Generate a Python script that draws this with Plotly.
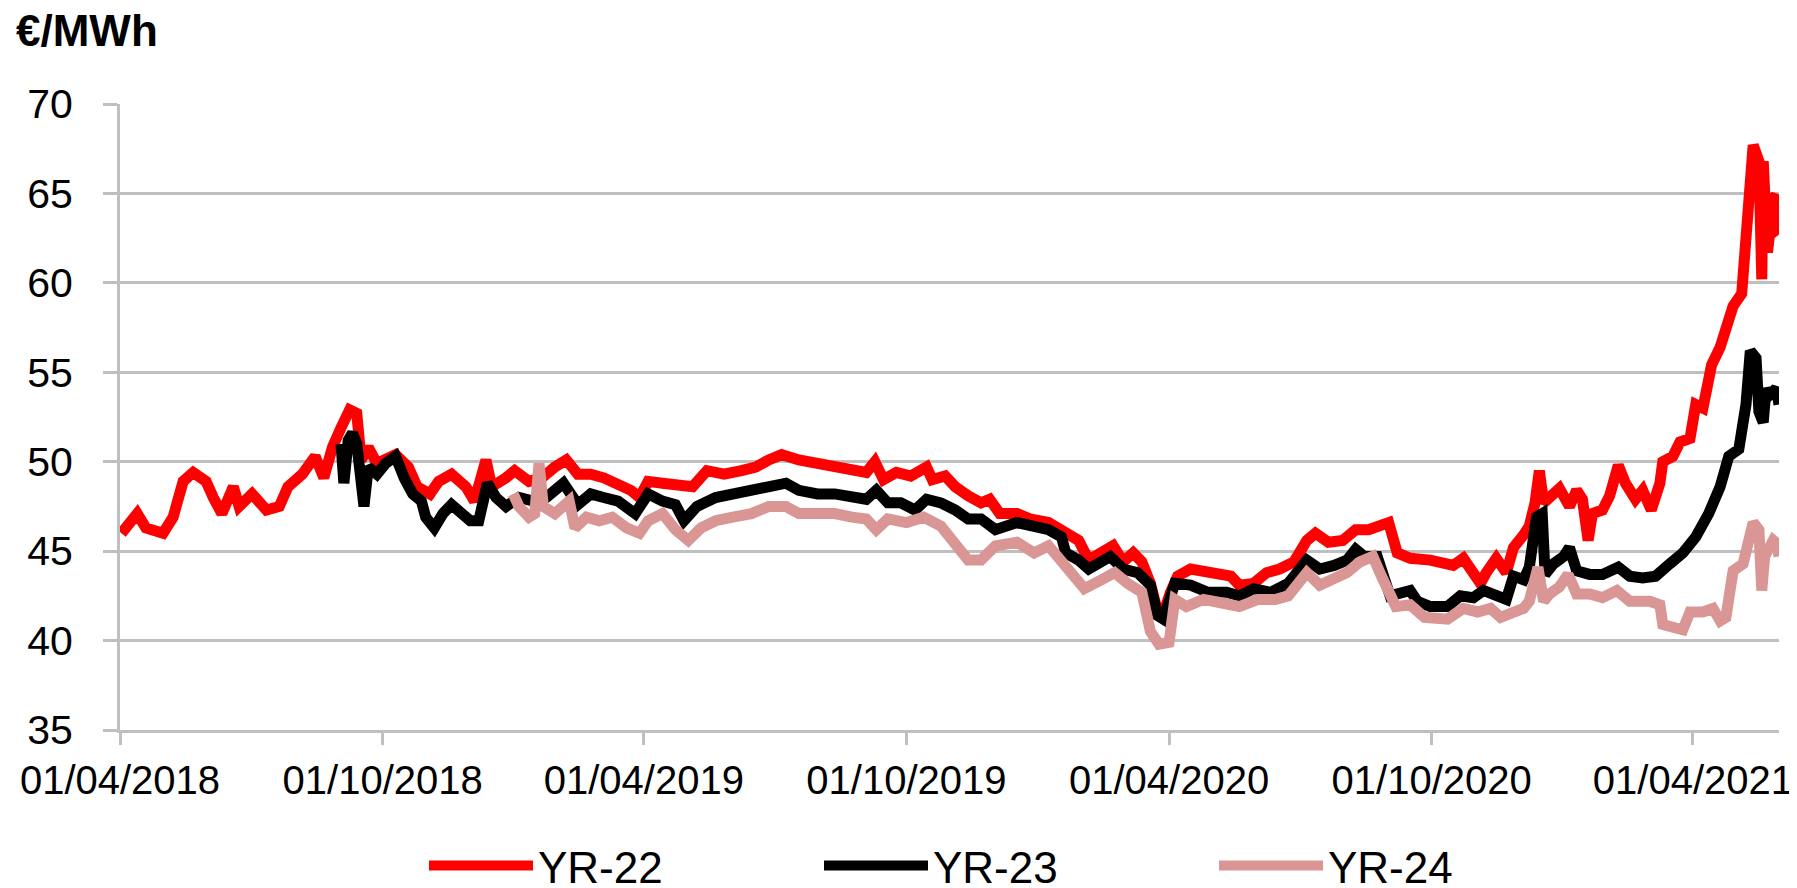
import plotly.graph_objects as go


# ======================================
# DATA
# ======================================

yr22_dates = [
    "2018-04-02", "2018-04-13", "2018-04-19", "2018-05-01", "2018-05-08", "2018-05-15",
    "2018-05-22", "2018-05-31", "2018-06-05", "2018-06-11", "2018-06-19", "2018-06-23",
    "2018-07-02", "2018-07-12", "2018-07-21", "2018-07-27", "2018-08-06", "2018-08-15",
    "2018-08-21", "2018-08-27", "2018-09-02", "2018-09-08", "2018-09-13", "2018-09-16",
    "2018-09-21", "2018-09-27", "2018-10-10", "2018-10-19", "2018-10-25", "2018-11-03",
    "2018-11-09", "2018-11-18", "2018-11-28", "2018-12-04", "2018-12-12", "2018-12-16",
    "2018-12-26", "2019-01-01", "2019-01-11", "2019-01-20", "2019-01-29", "2019-02-06",
    "2019-02-14", "2019-02-23", "2019-03-04", "2019-03-14", "2019-03-23", "2019-03-29",
    "2019-04-04", "2019-04-14", "2019-04-26", "2019-05-05", "2019-05-15", "2019-05-27",
    "2019-06-08", "2019-06-18", "2019-06-27", "2019-07-06", "2019-07-18", "2019-07-31",
    "2019-08-12", "2019-08-24", "2019-09-03", "2019-09-09", "2019-09-15", "2019-09-24",
    "2019-10-04", "2019-10-15", "2019-10-19", "2019-10-28", "2019-11-04", "2019-11-13",
    "2019-11-22", "2019-11-28", "2019-12-05", "2019-12-17", "2019-12-26", "2020-01-08",
    "2020-01-17", "2020-01-23", "2020-01-29", "2020-02-05", "2020-02-14", "2020-02-22",
    "2020-02-29", "2020-03-07", "2020-03-13", "2020-03-19", "2020-03-24", "2020-03-28",
    "2020-04-02", "2020-04-07", "2020-04-16", "2020-04-28", "2020-05-08", "2020-05-14",
    "2020-05-20", "2020-05-30", "2020-06-08", "2020-06-17", "2020-06-27", "2020-07-06",
    "2020-07-12", "2020-07-21", "2020-07-31", "2020-08-09", "2020-08-18", "2020-08-24",
    "2020-09-01", "2020-09-07", "2020-09-16", "2020-09-30", "2020-10-07", "2020-10-16",
    "2020-10-23", "2020-10-30", "2020-11-04", "2020-11-08", "2020-11-15", "2020-11-22",
    "2020-11-27", "2020-12-04", "2020-12-08", "2020-12-12", "2020-12-15", "2020-12-18",
    "2020-12-25", "2020-12-29", "2021-01-05", "2021-01-10", "2021-01-14", "2021-01-18",
    "2021-01-21", "2021-01-28", "2021-02-02", "2021-02-08", "2021-02-13", "2021-02-20",
    "2021-02-25", "2021-03-03", "2021-03-09", "2021-03-11", "2021-03-18", "2021-03-23",
    "2021-03-30", "2021-04-03", "2021-04-08", "2021-04-14", "2021-04-20", "2021-04-24",
    "2021-04-29", "2021-05-05", "2021-05-07", "2021-05-11", "2021-05-13", "2021-05-17",
    "2021-05-19", "2021-05-20", "2021-05-23", "2021-05-27", "2021-05-29", "2021-05-30",
    "2021-05-31",
]
yr22_values = [
    46.0, 47.1, 46.3, 46.0, 46.9, 48.9,
    49.4, 48.9, 48.0, 47.1, 48.6, 47.5,
    48.2, 47.3, 47.5, 48.6, 49.3, 50.3,
    49.1, 50.8, 51.9, 52.9, 52.7, 50.1,
    50.8, 49.9, 50.4, 49.7, 48.6, 48.2,
    48.9, 49.3, 48.6, 47.8, 50.1, 48.6,
    49.1, 49.5, 48.9, 49.1, 49.7, 50.1,
    49.3, 49.3, 49.1, 48.8, 48.4, 48.0,
    48.9, 48.8, 48.6, 48.6, 49.5, 49.3,
    49.5, 49.7, 50.1, 50.4, 50.1, 49.9,
    49.7, 49.5, 49.4, 50.0, 49.0, 49.4,
    49.2, 49.7, 49.0, 49.2, 48.6, 48.1,
    47.7, 47.9, 47.1, 47.1, 46.8, 46.6,
    46.2, 46.0, 45.6, 44.5, 44.9, 45.3,
    44.4, 44.9, 44.4, 43.2, 41.6, 41.5,
    42.7, 43.6, 44.0, 43.8, 43.6, 43.6,
    43.1, 43.2, 43.8, 44.0, 44.4, 45.6,
    46.0, 45.5, 45.6, 46.2, 46.2, 46.4,
    46.6, 44.9, 44.6, 44.5, 44.3, 44.2,
    44.6, 43.9, 43.2, 43.8, 44.6, 43.8,
    45.2, 45.9, 46.4, 47.7, 49.5, 47.7,
    48.1, 48.5, 47.5, 48.4, 47.9, 45.6,
    47.1, 47.3, 48.1, 49.8, 48.8, 47.9,
    48.4, 47.3, 48.8, 50.0, 50.3, 51.1,
    51.3, 53.2, 53.0, 55.4, 56.4, 57.3,
    58.7, 59.4, 61.3, 66.0, 67.7, 66.8,
    60.2, 66.8, 61.7, 64.7, 64.9, 62.8,
    62.7,
]

yr23_dates = [
    "2018-09-02", "2018-09-04", "2018-09-07", "2018-09-10", "2018-09-13", "2018-09-18",
    "2018-09-21", "2018-09-27", "2018-10-03", "2018-10-10", "2018-10-16", "2018-10-22",
    "2018-10-28", "2018-10-31", "2018-11-06", "2018-11-12", "2018-11-18", "2018-11-25",
    "2018-12-01", "2018-12-07", "2018-12-13", "2018-12-19", "2018-12-26", "2019-01-04",
    "2019-01-14", "2019-01-23", "2019-02-04", "2019-02-14", "2019-02-23", "2019-03-04",
    "2019-03-14", "2019-03-26", "2019-04-04", "2019-04-14", "2019-04-23", "2019-04-29",
    "2019-05-08", "2019-05-21", "2019-06-02", "2019-06-15", "2019-06-27", "2019-07-09",
    "2019-07-18", "2019-07-31", "2019-08-12", "2019-08-24", "2019-09-03", "2019-09-10",
    "2019-09-18", "2019-09-27", "2019-10-07", "2019-10-15", "2019-10-25", "2019-11-04",
    "2019-11-13", "2019-11-22", "2019-12-02", "2019-12-17", "2019-12-29", "2020-01-08",
    "2020-01-17", "2020-01-20", "2020-01-29", "2020-02-05", "2020-02-20", "2020-02-29",
    "2020-03-10", "2020-03-19", "2020-03-24", "2020-03-28", "2020-04-05", "2020-04-16",
    "2020-04-28", "2020-05-11", "2020-05-20", "2020-05-30", "2020-06-11", "2020-06-23",
    "2020-07-06", "2020-07-15", "2020-07-25", "2020-08-03", "2020-08-09", "2020-08-15",
    "2020-08-24", "2020-09-02", "2020-09-16", "2020-09-21", "2020-09-30", "2020-10-12",
    "2020-10-21", "2020-10-30", "2020-11-06", "2020-11-15", "2020-11-22", "2020-11-27",
    "2020-12-04", "2020-12-08", "2020-12-13", "2020-12-17", "2020-12-19", "2020-12-25",
    "2021-01-01", "2021-01-05", "2021-01-10", "2021-01-19", "2021-01-28", "2021-02-08",
    "2021-02-16", "2021-02-25", "2021-03-06", "2021-03-16", "2021-03-25", "2021-04-03",
    "2021-04-12", "2021-04-20", "2021-04-26", "2021-05-03", "2021-05-08", "2021-05-11",
    "2021-05-15", "2021-05-17", "2021-05-20", "2021-05-22", "2021-05-24", "2021-05-29",
    "2021-05-31",
]
yr23_values = [
    51.0, 48.8, 51.2, 51.6, 51.0, 47.5,
    49.7, 49.3, 49.9, 50.3, 49.1, 48.2,
    47.8, 46.9, 46.3, 47.1, 47.6, 47.1,
    46.7, 46.7, 48.8, 48.0, 47.5, 48.0,
    47.8, 48.0, 48.8, 47.6, 48.2, 48.0,
    47.8, 47.1, 48.2, 47.8, 47.6, 46.7,
    47.5, 48.0, 48.2, 48.4, 48.6, 48.8,
    48.4, 48.2, 48.2, 48.1, 47.9, 48.4,
    47.7, 47.7, 47.3, 47.9, 47.7, 47.3,
    46.8, 46.8, 46.2, 46.6, 46.4, 46.2,
    45.8, 44.9, 44.5, 44.0, 44.7, 44.0,
    43.8, 43.1, 41.4, 41.2, 43.2, 43.1,
    42.7, 42.7, 42.5, 42.9, 42.7, 43.2,
    44.5, 44.0, 44.2, 44.5, 45.1, 44.7,
    44.7, 42.5, 42.8, 42.2, 41.9, 41.9,
    42.5, 42.4, 42.8, 42.6, 42.3, 43.6,
    43.4, 44.1, 46.9, 47.1, 43.7, 44.3,
    44.7, 45.2, 43.9, 43.7, 43.7, 44.1,
    43.6, 43.5, 43.6, 44.3, 44.9, 45.8,
    47.1, 48.6, 50.3, 50.7, 53.2, 56.2,
    55.8, 52.8, 52.2, 54.1, 53.7, 54.1,
    53.2,
]

yr24_dates = [
    "2018-12-31", "2019-01-04", "2019-01-11", "2019-01-15", "2019-01-18", "2019-01-21",
    "2019-01-29", "2019-02-08", "2019-02-12", "2019-02-20", "2019-03-01", "2019-03-10",
    "2019-03-20", "2019-03-29", "2019-04-04", "2019-04-14", "2019-04-23", "2019-05-02",
    "2019-05-11", "2019-05-21", "2019-06-02", "2019-06-15", "2019-06-27", "2019-07-09",
    "2019-07-18", "2019-07-31", "2019-08-12", "2019-08-24", "2019-09-03", "2019-09-10",
    "2019-09-18", "2019-10-01", "2019-10-13", "2019-10-25", "2019-11-04", "2019-11-13",
    "2019-11-22", "2019-12-02", "2019-12-17", "2019-12-29", "2020-01-08", "2020-01-17",
    "2020-01-26", "2020-02-02", "2020-02-14", "2020-02-23", "2020-03-03", "2020-03-13",
    "2020-03-19", "2020-03-25", "2020-04-01", "2020-04-05", "2020-04-13", "2020-04-25",
    "2020-05-08", "2020-05-20", "2020-06-02", "2020-06-14", "2020-06-23", "2020-07-06",
    "2020-07-15", "2020-07-25", "2020-08-03", "2020-08-12", "2020-08-21", "2020-08-27",
    "2020-09-06", "2020-09-16", "2020-09-26", "2020-10-12", "2020-10-23", "2020-11-02",
    "2020-11-11", "2020-11-18", "2020-11-27", "2020-12-04", "2020-12-08", "2020-12-14",
    "2020-12-18", "2020-12-22", "2020-12-29", "2021-01-04", "2021-01-10", "2021-01-19",
    "2021-01-28", "2021-02-07", "2021-02-16", "2021-03-02", "2021-03-09", "2021-03-11",
    "2021-03-20", "2021-03-25", "2021-03-30", "2021-04-08", "2021-04-15", "2021-04-20",
    "2021-04-24", "2021-04-29", "2021-05-06", "2021-05-10", "2021-05-13", "2021-05-17",
    "2021-05-19", "2021-05-21", "2021-05-27", "2021-05-30", "2021-05-31",
]
yr24_values = [
    48.2, 47.5, 46.9, 47.1, 49.9, 47.5,
    47.1, 47.8, 46.3, 46.9, 46.7, 46.9,
    46.3, 46.0, 46.7, 47.1, 46.2, 45.6,
    46.3, 46.7, 46.9, 47.1, 47.5, 47.5,
    47.1, 47.1, 47.1, 46.9, 46.8, 46.2,
    46.8, 46.6, 46.9, 46.4, 45.3, 44.5,
    44.5, 45.3, 45.5, 44.9, 45.3, 44.4,
    43.4, 42.9, 43.4, 43.8, 43.2, 42.7,
    40.5, 39.8, 39.9, 42.3, 41.9, 42.3,
    42.1, 41.9, 42.3, 42.3, 42.5, 43.8,
    43.1, 43.4, 43.8, 44.4, 44.7, 43.6,
    41.9, 42.0, 41.3, 41.2, 41.8, 41.6,
    41.8, 41.3, 41.6, 41.8, 42.2, 44.1,
    42.2, 42.6, 43.0, 43.7, 42.6, 42.6,
    42.4, 42.8, 42.2, 42.2, 42.0, 40.9,
    40.7, 40.6, 41.6, 41.6, 41.8, 41.1,
    41.3, 43.9, 44.3, 45.6, 46.6, 46.2,
    42.8, 44.7, 45.6, 45.4, 44.7,
]

series_names = ["YR-22", "YR-23", "YR-24"]
series_colors = ["#FF0000", "#000000", "#D99694"]

tick_dates = ["2018-04-01", "2018-10-01", "2019-04-01", "2019-10-01",
              "2020-04-01", "2020-10-01", "2021-04-01"]
tick_labels = ["01/04/2018", "01/10/2018", "01/04/2019", "01/10/2019",
               "01/04/2020", "01/10/2020", "01/04/2021"]


# ======================================
# BUILD FIGURE
# ======================================

FONT = "Liberation Sans, Arial, sans-serif"
GRID = "#BFBFBF"

fig = go.Figure()

all_series = [
    (yr22_dates, yr22_values),
    (yr23_dates, yr23_values),
    (yr24_dates, yr24_values),
]

for (dates, values), name, color in zip(all_series, series_names, series_colors):
    fig.add_trace(go.Scatter(
        x=dates,
        y=values,
        mode="lines",
        name=name,
        line=dict(color=color, width=11),
    ))

fig.add_annotation(
    text="<b>€/MWh</b>",
    xref="paper", yref="paper",
    x=-0.0637, y=1.117,
    xanchor="left", yanchor="middle",
    showarrow=False,
    font=dict(family=FONT, size=44, color="black"),
)

# =========================
# STYLE
# (page body keeps its 8px margin, so margins are 8px smaller)
# =========================

fig.update_layout(
    width=1797,
    height=888,
    margin=dict(l=110, r=22, t=96, b=166),
    paper_bgcolor="white",
    plot_bgcolor="white",
    font=dict(family=FONT, color="black"),
    showlegend=True,
    legend=dict(
        orientation="h",
        xref="container", yref="container",
        x=416 / 1797, y=30 / 888,
        xanchor="left", yanchor="middle",
        font=dict(family=FONT, size=44, color="black"),
        itemwidth=104,
        entrywidth=276,
        entrywidthmode="pixels",
        bgcolor="rgba(0,0,0,0)",
    ),
    xaxis=dict(
        type="date",
        range=["2018-04-01", "2021-05-31"],
        tickvals=tick_dates,
        ticktext=tick_labels,
        ticks="outside",
        ticklen=12,
        tickwidth=3,
        tickcolor=GRID,
        ticklabelstandoff=1,
        showgrid=False,
        showline=True,
        linecolor=GRID,
        linewidth=3,
        tickfont=dict(family=FONT, size=40, color="black"),
        zeroline=False,
    ),
    yaxis=dict(
        range=[35, 70],
        dtick=5,
        tick0=35,
        ticks="outside",
        ticklen=14,
        tickwidth=3,
        tickcolor=GRID,
        ticklabelstandoff=22,
        showgrid=True,
        gridcolor=GRID,
        gridwidth=3,
        showline=True,
        linecolor=GRID,
        linewidth=3,
        tickfont=dict(family=FONT, size=41, color="black"),
        zeroline=False,
    ),
)

fig.write_html("out.html")
